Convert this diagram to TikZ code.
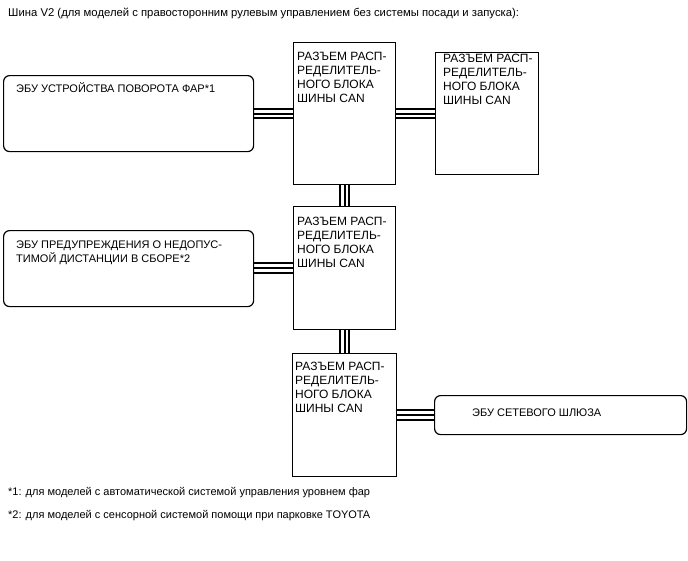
\documentclass[tikz,border=0pt]{standalone}
\usepackage{fontspec}
\setmainfont{Liberation Sans}
\newcommand\stk[1]{\vtop{\halign{##\hfil\cr#1\crcr}}}
\begin{document}
\begin{tikzpicture}[x=1pt,y=-1pt,
  box/.style={draw, line width=1.2pt, inner sep=0pt, anchor=north west},
  ecu/.style={box, rounded corners=6pt},
  txt/.style={anchor=base west, inner sep=0pt, font=\fontsize{11}{14}\selectfont},
  rtxt/.style={txt, font=\fontsize{12}{14}\selectfont},
  wire/.style={line width=2pt}]
\useasboundingbox[fill=white] (0,0) rectangle (688,560);

\node[txt, font=\fontsize{11.3}{14}\selectfont] (title) at (8,16) {Шина V2 (для моделей с правосторонним рулевым управлением без системы посади и запуска):};

% boxes
\node[ecu, minimum width=250pt, minimum height=76pt] (a) at (3,75) {};
\node[box, minimum width=102pt, minimum height=142pt] (b1) at (293,42) {};
\node[box, minimum width=103pt, minimum height=122pt] (b2) at (435,52) {};
\node[ecu, minimum width=250pt, minimum height=76pt] (c) at (3,230) {};
\node[box, minimum width=102pt, minimum height=123pt] (b3) at (293,206) {};
\node[box, minimum width=104pt, minimum height=123pt] (b4) at (292,353) {};
\node[ecu, minimum width=252pt, minimum height=39pt] (d) at (434,395) {};

% texts
\node[txt] (at) at (16,92) {ЭБУ УСТРОЙСТВА ПОВОРОТА ФАР*1};
\node[rtxt] (b1t) at (297,60) {\stk{РАЗЪЕМ РАСП-\cr РЕДЕЛИТЕЛЬ-\cr НОГО БЛОКА\cr ШИНЫ CAN}};
\node[rtxt] (b2t) at (443,62) {\stk{РАЗЪЕМ РАСП-\cr РЕДЕЛИТЕЛЬ-\cr НОГО БЛОКА\cr ШИНЫ CAN}};
\node[txt] (ct) at (16,248) {\stk{ЭБУ ПРЕДУПРЕЖДЕНИЯ О НЕДОПУС-\cr ТИМОЙ ДИСТАНЦИИ В СБОРЕ*2}};
\node[rtxt] (b3t) at (297,225) {\stk{РАЗЪЕМ РАСП-\cr РЕДЕЛИТЕЛЬ-\cr НОГО БЛОКА\cr ШИНЫ CAN}};
\node[rtxt] (b4t) at (295,370) {\stk{РАЗЪЕМ РАСП-\cr РЕДЕЛИТЕЛЬ-\cr НОГО БЛОКА\cr ШИНЫ CAN}};
\node[txt] (dt) at (472,416) {ЭБУ СЕТЕВОГО ШЛЮЗА};

\node[txt] (f1) at (8,495) {*1: для моделей с автоматической системой управления уровнем фар};
\node[txt] (f2) at (8,518) {*2: для моделей с сенсорной системой помощи при парковке TOYOTA};

% wires
\foreach \s in {-4.8,0,4.8}{
  \draw[wire] ([yshift=\s pt]b1.west) -- ([yshift=\s pt]b1.west -| a.east);
  \draw[wire] ([yshift=\s pt]b1.east) -- ([yshift=\s pt]b1.east -| b2.west);
  \draw[wire] ([yshift=\s pt]b3.west) -- ([yshift=\s pt]b3.west -| c.east);
  \draw[wire] ([yshift=\s pt]b4.east) -- ([yshift=\s pt]b4.east -| d.west);
  \draw[wire] ([xshift=\s pt]b1.south) -- ([xshift=\s pt]b1.south |- b3.north);
  \draw[wire] ([xshift=\s pt]b3.south) -- ([xshift=\s pt]b3.south |- b4.north);
}
\end{tikzpicture}
\end{document}
